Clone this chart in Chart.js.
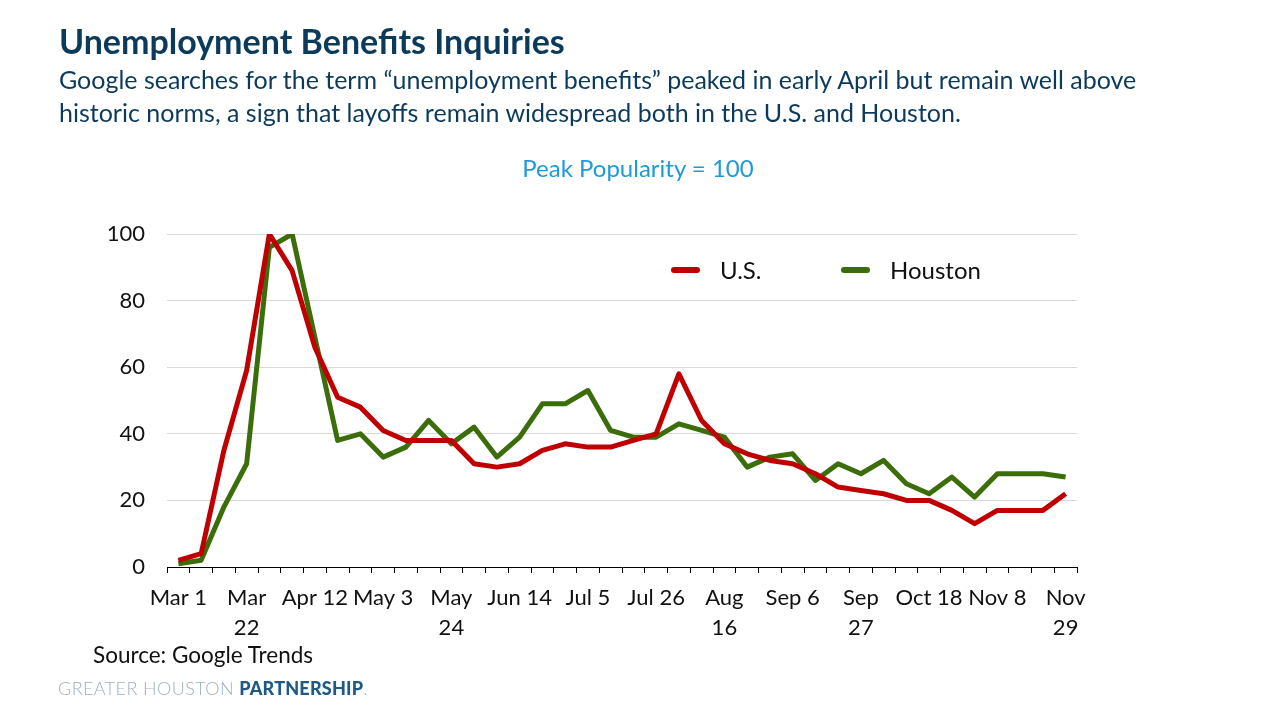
<!DOCTYPE html>
<html lang="en">
<head>
<meta charset="utf-8">
<title>Unemployment Benefits Inquiries</title>
<script src="https://cdn.jsdelivr.net/npm/chart.js@4.4.1/dist/chart.umd.min.js"></script>
<style>
  body { margin: 0; width: 1280px; height: 720px; background: #fff; position: relative; overflow: hidden; font-family: Lato, "Open Sans", sans-serif; }
  #c { position: absolute; left: 0; top: 0; }
  .txt { position: absolute; white-space: nowrap; }
  #title { left: 59px; top: 20px; font-size: 34px; font-weight: bold; color: #0b3a5b; }
  #sub { left: 59px; top: 63px; font-size: 25px; line-height: 33px; color: #0b3a5b; }
  #peak { left: 0; width: 1276px; text-align: center; top: 153px; font-size: 24px; color: #1f9ad8; }
  #src { left: 93px; top: 641px; font-size: 22.5px; color: #111; }
  #gh { left: 58px; top: 677px; font-size: 18px; color: #9fb0bd; letter-spacing: 0.4px; font-weight: 300; }
  #gh b { color: #1d5a86; font-weight: 900; letter-spacing: 0.2px; }
  .leg { position: absolute; top: 255px; font-size: 24px; color: #111; }
  .mark { position: absolute; top: 267px; width: 29px; height: 6px; border-radius: 3px; }
</style>
</head>
<body>
<canvas id="c" width="1280" height="720"></canvas>
<div class="txt" id="title">Unemployment Benefits Inquiries</div>
<div class="txt" id="sub">Google searches for the term “unemployment benefits” peaked in early April but remain well above<br>historic norms, a sign that layoffs remain widespread both in the U.S. and Houston.</div>
<div class="txt" id="peak">Peak Popularity = 100</div>
<div class="mark" style="left:671px;background:#c00000"></div>
<div class="leg" style="left:720px">U.S.</div>
<div class="mark" style="left:841px;background:#3b6e0b"></div>
<div class="leg" style="left:890px">Houston</div>
<div class="txt" id="src">Source: Google Trends</div>
<div class="txt" id="gh">GREATER HOUSTON <b>PARTNERSHIP</b>.</div>
<script>
// weekly, Mar 1 - Nov 29 2020
var weeks = ['Mar 1','Mar 8','Mar 15','Mar 22','Mar 29','Apr 5','Apr 12','Apr 19','Apr 26','May 3',
  'May 10','May 17','May 24','May 31','Jun 7','Jun 14','Jun 21','Jun 28','Jul 5','Jul 12',
  'Jul 19','Jul 26','Aug 2','Aug 9','Aug 16','Aug 23','Aug 30','Sep 6','Sep 13','Sep 20',
  'Sep 27','Oct 4','Oct 11','Oct 18','Oct 25','Nov 1','Nov 8','Nov 15','Nov 22','Nov 29'];
var usVals = [2,4,35,59,100,89,66,51,48,41,
  38,38,38,31,30,31,35,37,36,36,
  38,40,58,44,37,34,32,31,28,24,
  23,22,20,20,17,13,17,17,17,22];
var houVals = [1,2,18,31,96,100,69,38,40,33,
  36,44,37,42,33,39,49,49,53,41,
  39,39,43,41,39,30,33,34,26,31,
  28,32,25,22,27,21,28,28,28,27];
var yTicks = [0,20,40,60,80,100];
// labels that Excel wrapped onto two lines
var wrapped = ['Mar 22','May 24','Aug 16','Sep 27','Nov 29'];

new Chart(document.getElementById('c'), {
  type: 'line',
  data: {
    labels: weeks,
    datasets: [
      { label: 'U.S.', data: usVals, borderColor: '#c00000', backgroundColor: '#c00000', borderWidth: 5, pointRadius: 0, tension: 0, borderJoinStyle: 'round' },
      { label: 'Houston', data: houVals, borderColor: '#3b6e0b', backgroundColor: '#3b6e0b', borderWidth: 5, pointRadius: 0, tension: 0, borderJoinStyle: 'round' }
    ]
  },
  options: {
    responsive: false,
    animation: false,
    layout: { padding: { left: 0, right: 203, top: 234, bottom: 73 } },
    plugins: { legend: { display: false }, tooltip: { enabled: false } },
    scales: {
      x: {
        offset: true,
        grid: { offset: true, drawOnChartArea: false, drawTicks: true, tickLength: 6, color: '#000', lineWidth: 1 },
        border: { color: '#000', width: 1 },
        afterFit: function(s) { s.height = 80; },
        ticks: {
          autoSkip: false, maxRotation: 0, padding: 10, color: '#111',
          font: { family: 'Lato', size: 22, lineHeight: 1.35 },
          callback: function(v, i) {
            if (i % 3 !== 0) return '';
            var l = weeks[i];
            return wrapped.indexOf(l) >= 0 ? l.split(' ') : l;
          }
        }
      },
      y: {
        min: 0, max: 100,
        afterFit: function(s) { s.width = 167; },
        afterBuildTicks: function(s) { s.ticks = yTicks.map(function(v) { return { value: v }; }); },
        grid: { color: '#d9d9d9', lineWidth: 1, drawTicks: false },
        border: { display: false },
        ticks: { padding: 22, color: '#111', font: { family: 'Lato', size: 22 } }
      }
    }
  }
});
</script>
</body>
</html>
